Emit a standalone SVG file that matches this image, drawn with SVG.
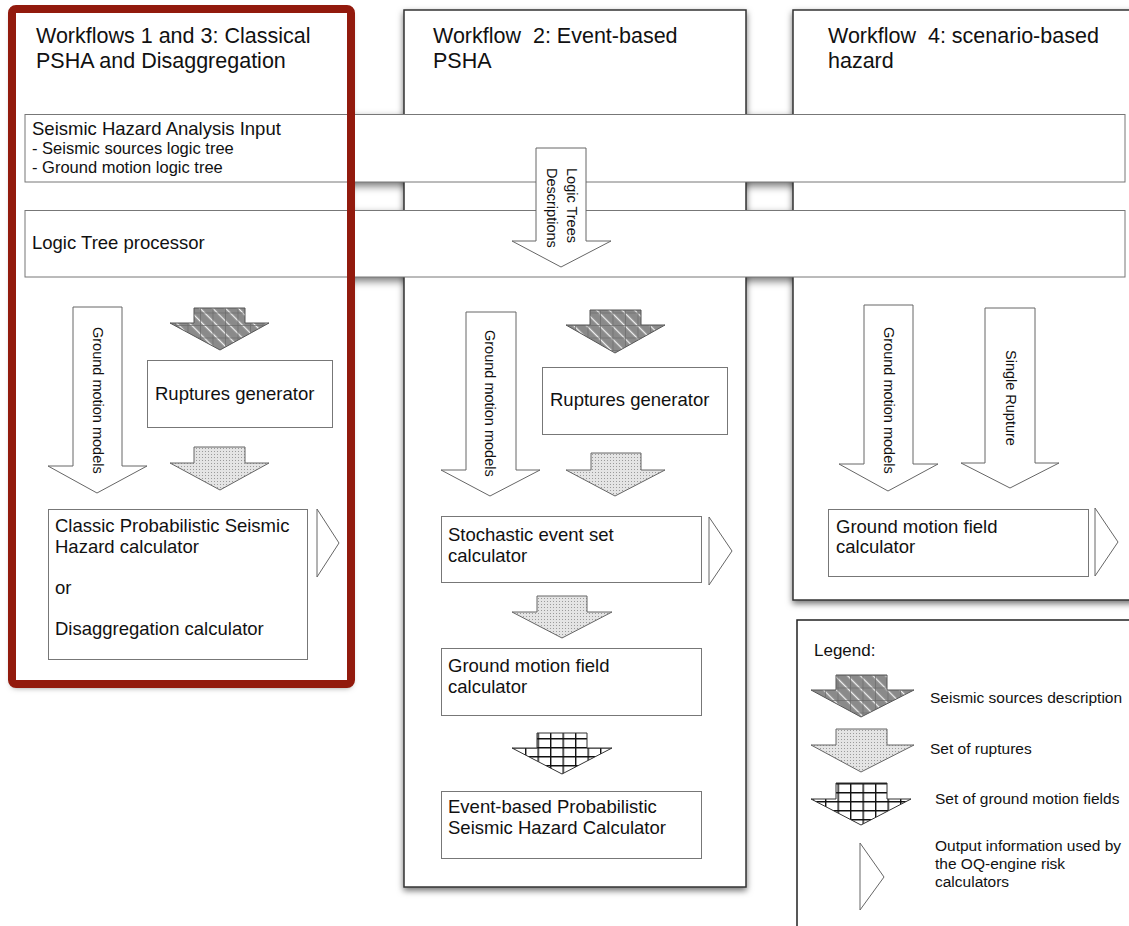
<svg xmlns="http://www.w3.org/2000/svg" width="1129" height="926" viewBox="0 0 1129 926">
<style>
text{font-family:"Liberation Sans",Arial,sans-serif;fill:#111}
.t{font-size:21.5px}
.b{font-size:18.5px}
.s{font-size:16.5px}
.r{font-size:14.5px}
.l{font-size:15.5px}
.box{fill:#fff;stroke:#777;stroke-width:1}
.band{fill:#fff;stroke:#777;stroke-width:1}
.panel{fill:#fff;stroke:#333;stroke-width:1.5}
.arr{fill:#fff;stroke:#666;stroke-width:1}
.out{fill:#fff;stroke:#666;stroke-width:1}
.src{fill:url(#diag);stroke:#555;stroke-width:1}
.grd{fill:url(#grid1);stroke:none}
.rup{fill:url(#dots);stroke:#666;stroke-width:1}
.gmf{fill:url(#mesh);stroke:#333;stroke-width:1}
</style>
<defs>
<filter id="sh" x="-10%" y="-10%" width="120%" height="120%">
<feDropShadow dx="0" dy="3" stdDeviation="3" flood-color="#000" flood-opacity="0.55"/>
</filter>
<filter id="bl" x="-10%" y="-50%" width="120%" height="200%">
<feGaussianBlur stdDeviation="4"/>
</filter>
<pattern id="diag" patternUnits="userSpaceOnUse" width="9" height="9" patternTransform="rotate(45)">
<rect width="9" height="9" fill="#8a8a8a"/>
<line x1="0" y1="4.5" x2="9" y2="4.5" stroke="#f2f2f2" stroke-width="1.3"/>
</pattern>
<pattern id="grid1" patternUnits="userSpaceOnUse" width="12.5" height="12.5">
<path d="M0 0.5H12.5M0.5 0V12.5" stroke="#6a6a6a" stroke-width="0.7" fill="none"/>
</pattern>
<pattern id="dots" patternUnits="userSpaceOnUse" width="3" height="3">
<rect width="3" height="3" fill="#e4e4e4"/>
<rect x="1" y="1" width="1" height="1" fill="#9a9a9a"/>
</pattern>
<pattern id="mesh" patternUnits="userSpaceOnUse" width="12.5" height="9" x="0" y="0">
<rect width="12.5" height="9" fill="#fff"/>
<path d="M0 0.7H12.5M0.7 0V9" stroke="#111" stroke-width="1.4" fill="none"/>
</pattern>
</defs>
<rect width="1129" height="926" fill="#fff"/>

<!-- band shadows -->
<g id="band-shadows" opacity="0.55">
<rect x="25" y="118" width="1100" height="68" fill="#000" filter="url(#bl)"/>
<rect x="25" y="214" width="1100" height="67" fill="#000" filter="url(#bl)"/>
</g>

<!-- panels -->
<g id="panel-wf13">
<rect x="12" y="9" width="339" height="675" rx="4" fill="#fff" filter="url(#sh)"/>
</g>
<g id="panel-wf2">
<rect class="panel" x="404" y="10" width="342" height="877" filter="url(#sh)"/>
<text class="t" x="433" y="43" xml:space="preserve">Workflow  2: Event-based</text>
<text class="t" x="433" y="68">PSHA</text>
</g>
<g id="panel-wf4">
<rect class="panel" x="793" y="10" width="400" height="590" filter="url(#sh)"/>
<text class="t" x="828" y="43" xml:space="preserve">Workflow  4: scenario-based</text>
<text class="t" x="828" y="68">hazard</text>
</g>

<!-- bands -->
<g id="sha-input">
<rect class="band" x="25" y="114.5" width="1100" height="67.5"/>
<text class="b" x="32" y="135">Seismic Hazard Analysis Input</text>
<text class="s" x="32" y="154">- Seismic sources logic tree</text>
<text class="s" x="32" y="173">- Ground motion logic tree</text>
</g>
<g id="logic-tree-processor">
<rect class="band" x="25" y="210.5" width="1100" height="66.5"/>
<text class="b" x="32" y="249">Logic Tree processor</text>
</g>

<!-- red highlight border -->
<g id="panel-wf13-border">
<rect x="12" y="9" width="339" height="675" rx="4" fill="none" stroke="#921a0d" stroke-width="8"/>
<text class="t" x="36" y="43">Workflows 1 and 3: Classical</text>
<text class="t" x="36" y="68">PSHA and Disaggregation</text>
</g>

<!-- nodes -->
<g id="ruptures-gen-1">
<rect class="box" x="147.5" y="360.5" width="185" height="67"/>
<text class="b" x="155" y="400">Ruptures generator</text>
</g>
<g id="classic-psha">
<rect class="box" x="48.5" y="509.5" width="259" height="150"/>
<text class="b" x="55" y="532">Classic Probabilistic Seismic</text>
<text class="b" x="55" y="553">Hazard calculator</text>
<text class="b" x="55" y="594">or</text>
<text class="b" x="55" y="635">Disaggregation calculator</text>
</g>
<g id="ruptures-gen-2">
<rect class="box" x="542.5" y="367.5" width="185" height="67"/>
<text class="b" x="550" y="406">Ruptures generator</text>
</g>
<g id="ses-calc">
<rect class="box" x="441.5" y="516.5" width="260" height="66"/>
<text class="b" x="448" y="541">Stochastic event set</text>
<text class="b" x="448" y="562">calculator</text>
</g>
<g id="gmf-calc-2">
<rect class="box" x="441.5" y="648.5" width="260" height="67"/>
<text class="b" x="448" y="672">Ground motion field</text>
<text class="b" x="448" y="693">calculator</text>
</g>
<g id="eb-psha">
<rect class="box" x="441.5" y="791.5" width="260" height="67"/>
<text class="b" x="448" y="813">Event-based Probabilistic</text>
<text class="b" x="448" y="834">Seismic Hazard Calculator</text>
</g>
<g id="gmf-calc-4">
<rect class="box" x="828.5" y="509.5" width="260" height="67"/>
<text class="b" x="836" y="533">Ground motion field</text>
<text class="b" x="836" y="553">calculator</text>
</g>

<!-- legend -->
<g id="legend">
<rect x="797" y="620" width="400" height="400" fill="#fff" stroke="#222" stroke-width="1.5"/>
<text class="b" x="814" y="656" style="font-size:17px">Legend:</text>
<path class="src" d="M836,675H887V690H914L861,717L811,690H836Z"/>
<path class="grd" d="M836,675H887V690H914L861,717L811,690H836Z"/>
<text class="l" x="930" y="703">Seismic sources description</text>
<path class="rup" d="M836,729H887V745H914L861,772L811,745H836Z"/>
<text class="l" x="930" y="754">Set of ruptures</text>
<path class="gmf" d="M836,783H887V799H911L861,825L811,799H836Z"/>
<text class="l" x="935" y="804">Set of ground motion fields</text>
<path class="out" d="M860,843L884,877L860,910Z"/>
<text class="l" x="935" y="851">Output information used by</text>
<text class="l" x="935" y="869">the OQ-engine risk</text>
<text class="l" x="935" y="887">calculators</text>
</g>

<!-- connectors (block arrows) -->
<g id="connectors">
<path class="arr" d="M536,148H586V241H611L561,267L512,241H536Z"/>
<text class="r" transform="translate(566.5,168) rotate(90)">Logic Trees<tspan x="0" dy="20">Descriptions</tspan></text>

<path class="arr" d="M73,307H122V466H147L97,493L48,466H73Z"/>
<text class="r" transform="translate(93,327) rotate(90)">Ground motion models</text>
<path class="src" d="M194,308H245V323H269L220,350L170,323H194Z"/>
<path class="grd" d="M194,308H245V323H269L220,350L170,323H194Z"/>
<path class="rup" d="M194,447H245V463H269L220,490L170,463H194Z"/>
<path class="out" d="M317,509L339,543L317,577Z"/>

<path class="arr" d="M466,312H516V470H540L490,496L441,470H466Z"/>
<text class="r" transform="translate(485,330) rotate(90)">Ground motion models</text>
<path class="src" d="M590,310H641V325H665L615,353L566,325H590Z"/>
<path class="grd" d="M590,310H641V325H665L615,353L566,325H590Z"/>
<path class="rup" d="M591,453H641V470H665L615,496L566,470H591Z"/>
<path class="out" d="M709,517L732,551L709,585Z"/>
<path class="rup" d="M537,596H587V612H612L562,638L512,612H537Z"/>
<path class="gmf" d="M537,733H587V748H612L562,774L512,748H537Z"/>

<path class="arr" d="M864,305H913V464H938L888,491L839,464H864Z"/>
<text class="r" transform="translate(884,327) rotate(90)">Ground motion models</text>
<path class="arr" d="M985,308H1035V463H1059L1010,488L961,463H985Z"/>
<text class="r" transform="translate(1006,350) rotate(90)">Single Rupture</text>
<path class="out" d="M1095,508L1118,542L1095,576Z"/>
</g>
</svg>
